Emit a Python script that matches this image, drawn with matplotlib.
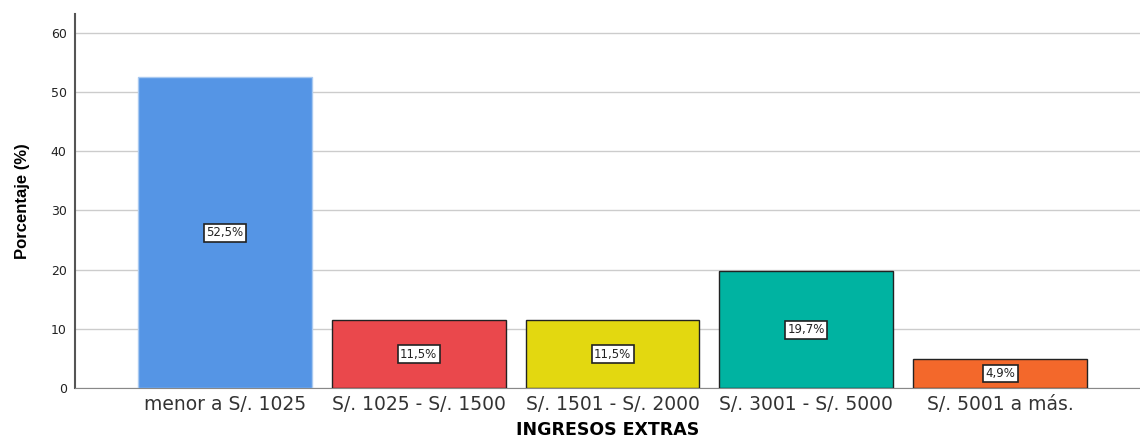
import matplotlib
matplotlib.use('Agg')
import matplotlib.pyplot as plt

categorias = ['menor a S/. 1025', 'S/. 1025 - S/. 1500', 'S/. 1501 - S/. 2000',
              'S/. 3001 - S/. 5000', 'S/. 5001 a más.']
porcentajes = [52.5, 11.5, 11.5, 19.7, 4.9]
etiquetas = ['52,5%', '11,5%', '11,5%', '19,7%', '4,9%']
colores = ['#5595e5', '#ea484c', '#e3d810', '#00b3a1', '#f3682b']
bordes = ['#a9c9f0', '#222222', '#222222', '#222222', '#222222']

plt.rcParams['font.family'] = ['DejaVu Sans']

fig = plt.figure(figsize=(11.4, 4.37), dpi=100)
ax = fig.add_axes([0.0658, 0.112, 0.934, 0.856])

x = range(len(categorias))
ax.bar(x, porcentajes, width=0.897, color=colores, edgecolor=bordes, linewidth=1.0, zorder=3)

# etiquetas en el centro de cada barra
for i, (v, t) in enumerate(zip(porcentajes, etiquetas)):
    ax.text(i, v / 2, t, ha='center', va='center', fontsize=8.5, color='#222222', zorder=4,
            bbox=dict(boxstyle='square,pad=0.2', facecolor='white', edgecolor='#222222', linewidth=1.2))

ax.set_xlim(-0.773, 4.72)
ax.set_ylim(0, 63.2)
ax.set_yticks([0, 10, 20, 30, 40, 50, 60])
ax.yaxis.grid(True, color='#cccccc', linewidth=1, zorder=0)
ax.set_axisbelow(True)

ax.set_xticks(list(x))
ax.set_xticklabels(categorias, fontsize=13.5, color='#333333')
ax.tick_params(axis='y', labelsize=9, colors='#222222', length=0, pad=6)
ax.tick_params(axis='x', length=0, pad=5)

for s in ['top', 'right']:
    ax.spines[s].set_visible(False)
ax.spines['left'].set_color('#555555')
ax.spines['left'].set_linewidth(1.5)
ax.spines['bottom'].set_color('#888888')

ax.set_ylabel('Porcentaje (%)', fontsize=12, fontweight='bold', family='Liberation Sans')
ax.yaxis.set_label_coords(-0.042, 0.5)
ax.set_xlabel('INGRESOS EXTRAS', fontsize=12.5, fontweight='bold', va='center')
ax.xaxis.set_label_coords(0.5, -0.111)

fig.savefig('out.png', dpi=100)
